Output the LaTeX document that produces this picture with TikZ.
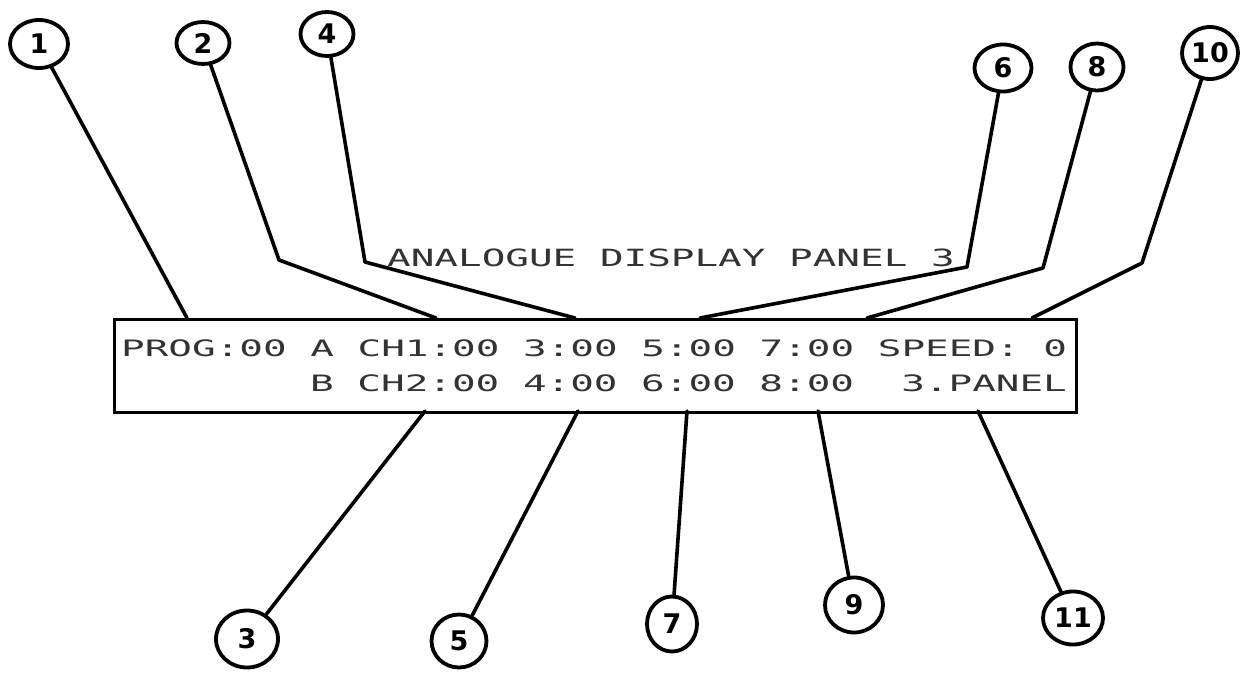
\documentclass[tikz,border=0pt]{standalone}
\usepackage{fontspec}
\usepackage{graphicx}
\usetikzlibrary{shapes.geometric}
\newfontfamily\dotfont{DejaVu Sans Mono}
\newfontfamily\handfont{DejaVu Sans}
\begin{document}
\begin{tikzpicture}[x=1pt,y=-1pt,
  lbl/.style={draw, ellipse, line width=3.8pt, inner sep=0pt, minimum width=55pt, minimum height=47pt, font=\handfont\bfseries\fontsize{27}{27}\selectfont},
  lead/.style={line width=3.6pt, line join=round, line cap=round},
  panel/.style={draw, line width=3pt, inner sep=0pt, anchor=north west},
  dottxt/.style={inner sep=0pt, anchor=base west, text=black!80, font=\dotfont\fontsize{22.6}{22.6}\selectfont}]
\useasboundingbox (0,0) rectangle (1245,675);

% display panel
\node[panel, minimum width=962pt, minimum height=93pt] (box) at (113,318) {};
\node[dottxt] (row1) at (121,356) {\scalebox{1.738}[1]{PROG:00 A CH1:00 3:00 5:00 7:00 SPEED: 0}};
\node[dottxt] (row2) at (310,391) {\scalebox{1.738}[1]{B CH2:00 4:00 6:00 8:00~~3.PANEL}};
\node[dottxt] (title) at (387,266) {\scalebox{1.738}[1.05]{ANALOGUE DISPLAY PANEL 3}};

% numbered labels
\node[lbl, minimum width=58pt, minimum height=48pt] (c1) at (39,44) {1};
\node[lbl, minimum width=53pt, minimum height=42pt] (c2) at (203,43) {2};
\node[lbl, minimum width=53pt, minimum height=44pt] (c4) at (327,34) {4};
\node[lbl, minimum width=57pt, minimum height=47pt] (c6) at (1003,68) {6};
\node[lbl, minimum width=53pt, minimum height=47pt] (c8) at (1097,67) {8};
\node[lbl, minimum width=56pt, minimum height=52pt] (c10) at (1210,53) {10};
\node[lbl, minimum width=62pt, minimum height=57pt] (c3) at (247,639) {3};
\node[lbl, minimum width=55pt, minimum height=53pt] (c5) at (459,641) {5};
\node[lbl, minimum width=50pt, minimum height=55pt] (c7) at (672,624) {7};
\node[lbl, minimum width=58pt, minimum height=55pt] (c9) at (854,605) {9};
\node[lbl, minimum width=60pt, minimum height=53pt] (c11) at (1073,618) {11};

% attachment points and bends
\coordinate (t1) at (187,318);
\coordinate (t2) at (436,318);
\coordinate (t4) at (575,318);
\coordinate (t6) at (700,318);
\coordinate (t8) at (867,318);
\coordinate (t10) at (1032,318);
\coordinate (b2) at (279,260);
\coordinate (b4) at (365,262);
\coordinate (b6) at (967,267);
\coordinate (b8) at (1043,268);
\coordinate (b10) at (1142,263);
\coordinate (u3) at (425,411);
\coordinate (u5) at (578,411);
\coordinate (u7) at (687,411);
\coordinate (u9) at (818,411);
\coordinate (u11) at (978,411);

% leader lines
\draw[lead] (c1) -- (t1);
\draw[lead] (c2) -- (b2) -- (t2);
\draw[lead] (c4) -- (b4) -- (t4);
\draw[lead] (c6) -- (b6) -- (t6);
\draw[lead] (c8) -- (b8) -- (t8);
\draw[lead] (c10) -- (b10) -- (t10);
\draw[lead] (u3) -- (c3);
\draw[lead] (u5) -- (c5);
\draw[lead] (u7) -- (c7);
\draw[lead] (u9) -- (c9);
\draw[lead] (u11) -- (c11);
\end{tikzpicture}
\end{document}
